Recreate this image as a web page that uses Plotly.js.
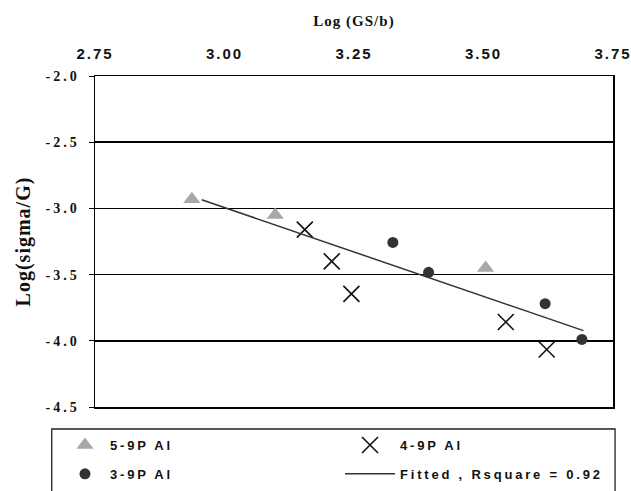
<!DOCTYPE html>
<html>
<head>
<meta charset="utf-8">
<script src="https://cdn.plot.ly/plotly-3.0.1.min.js"></script>
<style>
html,body{margin:0;padding:0;background:#fff;}
#chart{width:631px;height:491px;}
#chart .xtick text{letter-spacing:2px;}
#chart .ytick text{letter-spacing:3px;}
text.legendtext, g[class*="legend"] text{letter-spacing:2.8px;}
g.scrollbox{clip-path:none !important;}
#chart .xtitle,#chart .ytitle{letter-spacing:1px;}
</style>
</head>
<body>
<div id="chart"></div>
<script>
// Data
const x59 = [2.937, 3.098, 3.504];
const y59 = [-2.93, -3.05, -3.45];
const x49 = [3.155, 3.207, 3.245, 3.543, 3.622];
const y49 = [-3.16, -3.40, -3.646, -3.858, -4.066];
const x39 = [3.325, 3.394, 3.619, 3.69];
const y39 = [-3.257, -3.483, -3.72, -3.99];
const xFit = [2.956, 3.693];
const yFit = [-2.935, -3.923];
const xTicks = [2.75, 3.00, 3.25, 3.50, 3.75];
const xTickLabels = ["2.75", "3.00", "3.25", "3.50", "3.75"];
const yTicks = [-2.0, -2.5, -3.0, -3.5, -4.0, -4.5];
const yTickLabels = ["-2.0", "-2.5", "-3.0", "-3.5", "-4.0", "-4.5"];
const names = ["5-9P Al", "4-9P Al", "3-9P Al", "Fitted , Rsquare = 0.92"];

const traces = [
  {x: x59, y: y59, name: names[0], type: 'scatter', mode: 'markers', legend: 'legend', legendgroup: 'a',
   marker: {symbol: 'triangle-up', size: 15, color: '#a8a8a8'}},
  {x: x49, y: y49, name: names[1], type: 'scatter', mode: 'markers', legend: 'legend2', legendgroup: 'b',
   marker: {symbol: 'x-thin-open', size: 16, color: '#111', line: {width: 1.6, color: '#111'}}},
  {x: x39, y: y39, name: names[2], type: 'scatter', mode: 'markers', legend: 'legend', legendgroup: 'c',
   marker: {symbol: 'circle', size: 11, color: '#333'}},
  {x: xFit, y: yFit, name: names[3], type: 'scatter', mode: 'lines', legend: 'legend2', legendgroup: 'd',
   line: {color: '#333', width: 1.5}}
];

const legFont = {family: 'Liberation Sans, Arial, sans-serif', size: 13, color: '#111', weight: 'bold'};

const layout = {
  width: 631, height: 491,
  margin: {l: 95, r: 18, t: 76, b: 84, autoexpand: false},
  paper_bgcolor: '#fff', plot_bgcolor: '#fff',
  showlegend: true,
  legend: {
    x: -0.0676, y: -0.0695, xanchor: 'left', yanchor: 'top',
    bgcolor: 'rgba(0,0,0,0)', borderwidth: 0, tracegroupgap: 9, itemwidth: 40,
    font: legFont
  },
  legend2: {
    x: 0.473, y: -0.0695, xanchor: 'left', yanchor: 'top',
    bgcolor: 'rgba(0,0,0,0)', borderwidth: 0, tracegroupgap: 9, itemwidth: 50,
    font: legFont
  },
  shapes: [
    {type: 'rect', xref: 'paper', yref: 'paper', x0: -0.0835, x1: 1.004, y0: -0.0665, y1: -0.30,
     line: {color: '#222', width: 1.3}, fillcolor: 'rgba(0,0,0,0)', layer: 'below'}
  ],
  xaxis: {
    side: 'top', range: [2.75, 3.75], tickvals: xTicks, ticktext: xTickLabels,
    showgrid: false, zeroline: false, showline: true, linecolor: '#000', linewidth: 1.5, mirror: true,
    ticks: '', ticklabelstandoff: 10,
    tickfont: {family: 'Liberation Sans, Arial, sans-serif', size: 15, color: '#111', weight: 'bold'},
    title: {text: 'Log (GS/b)', standoff: 14, font: {family: 'Liberation Serif, Times New Roman, serif', size: 15, color: '#111', weight: 'bold'}}
  },
  yaxis: {
    range: [-4.5, -2.0], tickvals: yTicks, ticktext: yTickLabels,
    showgrid: true, gridcolor: '#000', gridwidth: 1.5, zeroline: false,
    showline: true, linecolor: '#000', linewidth: 1.5, mirror: true,
    ticks: 'outside', ticklen: 5, tickcolor: '#000', ticklabelstandoff: 6,
    tickfont: {family: 'Liberation Serif, Times New Roman, serif', size: 14, color: '#111', weight: 'bold'},
    title: {text: 'Log(sigma/G)', standoff: 21, font: {family: 'Liberation Serif, Times New Roman, serif', size: 20, color: '#111', weight: 'bold'}}
  }
};

Plotly.newPlot('chart', traces, layout, {displayModeBar: false, staticPlot: true});
</script>
</body>
</html>
